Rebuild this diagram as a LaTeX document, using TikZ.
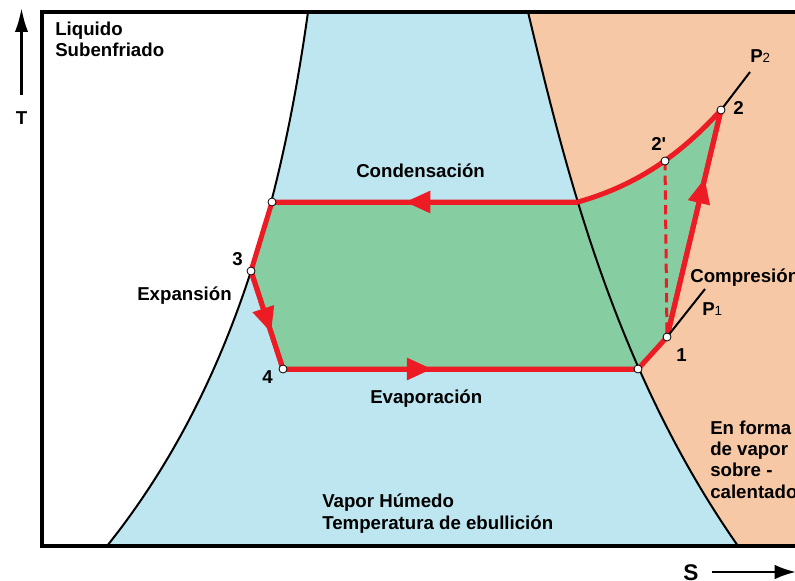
\documentclass[tikz,border=0pt]{standalone}
\usepackage{fontspec}
\setmainfont{Liberation Sans}
\usetikzlibrary{arrows.meta,decorations.markings}
\definecolor{humedo}{RGB}{190,230,240}
\definecolor{sobrec}{RGB}{246,200,166}
\definecolor{ciclo}{RGB}{134,206,161}
\definecolor{rojo}{RGB}{237,28,36}
\begin{document}
\begin{tikzpicture}[x=0.75pt,y=-0.75pt,>=latex,
  txt/.style={font=\bfseries\fontsize{14}{16}\selectfont,inner sep=0pt,anchor=base west,align=left},
  pto/.style={circle,draw=black,fill=white,line width=0.6pt,inner sep=0pt,minimum size=6pt},
  linea/.style={draw=rojo,line width=3.75pt},
  flecha/.style={postaction={decorate,decoration={markings,mark=at position #1 with {\arrow{Triangle[length=19pt,width=16pt]}}}}}]
\useasboundingbox (0,0) rectangle (795,581);
\clip (0,0) rectangle (795,581);
\coordinate (A) at (272,202);
\coordinate (p3) at (251,271);
\coordinate (p4) at (283,369);
\coordinate (B) at (638,369);
\coordinate (p1) at (667,337);
\coordinate (p2) at (721,110);
\coordinate (p2s) at (665,161);
\coordinate (C) at (578,202);
\coordinate (q1) at (705,289);
\coordinate (q2) at (750,72);
\fill[sobrec] (528,12) .. controls (564,162) and (612,366) .. (738,546) -- (800,546) -- (800,12) -- cycle;
\fill[humedo] (308,12) .. controls (280,212) and (227,396) .. (107,546) -- (738,546) .. controls (612,366) and (564,162) .. (528,12) -- cycle;
\fill[ciclo] (A) -- (p3) -- (p4) -- (B) -- (p1) -- (p2) .. controls (681,154) and (638,185) .. (C) -- cycle;
\draw[line width=1.5pt] (308,12) .. controls (280,212) and (227,396) .. (107,546);
\draw[line width=1.5pt] (528,12) .. controls (564,162) and (612,366) .. (738,546);
\draw[rojo,line width=2.25pt,dash pattern=on 7pt off 4pt] (p2s) -- (p1);
\draw[linea,line join=round] (A) -- (p3) -- (p4) -- (B) -- (p1) -- (p2) .. controls (681,154) and (638,185) .. (C) -- cycle;
\draw[linea,flecha=0.565] (C) -- (A);
\draw[linea,flecha=0.63] (p3) -- (p4);
\draw[linea,flecha=0.42] (p4) -- (B);
\draw[linea,flecha=0.70] (p1) -- (p2);
\draw[line width=1.5pt] (p1) -- (q1);
\draw[line width=1.5pt] (p2) -- (q2);
\foreach \p in {A,p3,p4,B,p1,p2,p2s} \node[pto] (c\p) at (\p) {};
\draw[line width=3pt] (800,12) -- (42,12) -- (42,546) -- (800,546);
\coordinate (ta) at (21.5,95);
\coordinate (tb) at (21.5,8);
\coordinate (sa) at (712,572);
\coordinate (sb) at (796,572);
\draw[line width=2pt,-{Latex[length=18pt,width=10pt]}] (ta) -- (tb);
\draw[line width=2pt,-{Latex[length=16pt,width=11pt]}] (sa) -- (sb);
\node[txt,anchor=base] (T) at (21.5,125) {T};
\node[txt,font=\bfseries\fontsize{17}{17}\selectfont] (S) at (683,580) {S};
\node[txt] (liq) at (55,57) {Liquido\\Subenfriado};
\node[txt] (cond) at (356,177) {Condensación};
\node[txt] (evap) at (370,403) {Evaporación};
\node[txt] (exp) at (137,300) {Expansión};
\node[txt] (comp) at (690,282) {Compresión};
\node[txt] (l3) at (232,265) {3};
\node[txt] (l4) at (262,383) {4};
\node[txt] (l1) at (676,361) {1};
\node[txt] (l2) at (733,115) {2};
\node[txt] (l2s) at (651,151) {2\textquotesingle};
\node[txt] (P1) at (702,315) {P{\mdseries\fontsize{10}{10}\selectfont 1}};
\node[txt] (P2) at (750,63) {P{\mdseries\fontsize{10}{10}\selectfont 2}};
\node[txt] (sobre) at (710,498) {En forma\\de vapor\\sobre -\\calentado};
\node[txt] (hum) at (322,529) {Vapor Húmedo\\Temperatura de ebullición};
\end{tikzpicture}
\end{document}
